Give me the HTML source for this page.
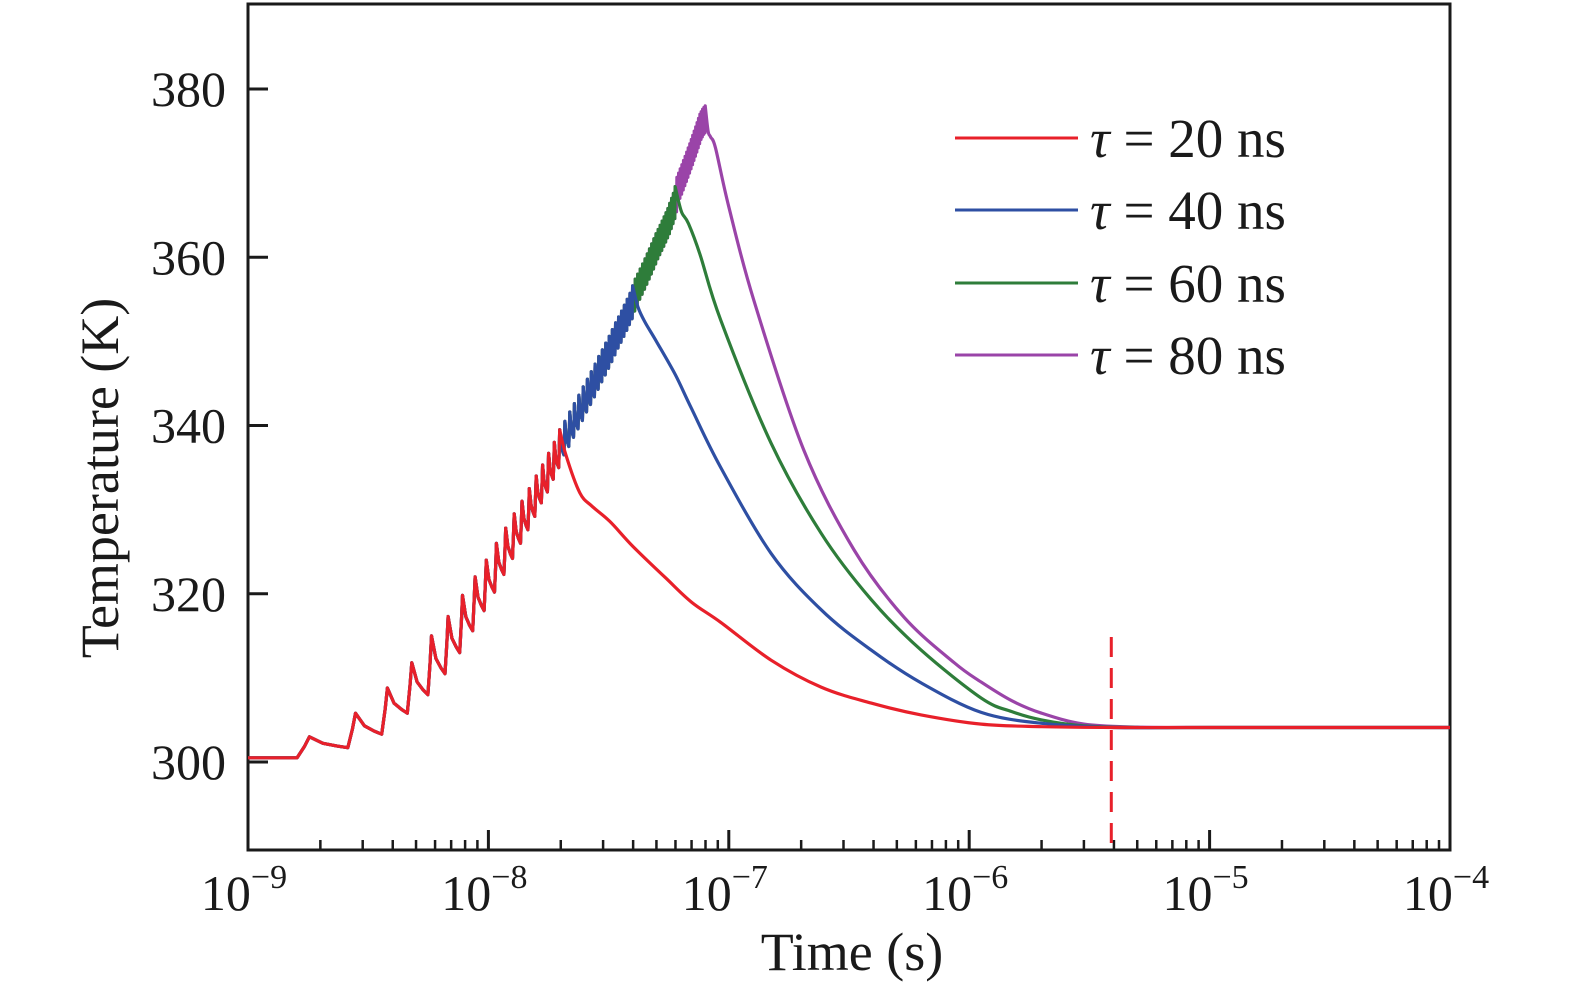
<!DOCTYPE html>
<html><head><meta charset="utf-8"><style>
body{margin:0;background:#fff}
svg{display:block;font-family:"Liberation Serif",serif}
</style></head><body>
<svg id="chart" width="1575" height="994" viewBox="0 0 1575 994" xmlns="http://www.w3.org/2000/svg">
<g id="grid"></g>
<g id="series"></g>
<g id="legend"></g>
</svg>
<script>
const xDecades=[-9,-8,-7,-6,-5,-4];
const yTicks=[300,320,340,360,380];
const pulsePeriodNs=1, firstPulseNs=1.8;
const peakK=[303.0,305.8,308.8,311.8,315.0,317.3,319.8,322.0,324.0,326.0,327.8,329.5,331.0,332.5,334.0,335.3,336.7,338.0,339.5,340.5,341.6,342.6,343.6,344.6,345.5,346.4,347.3,348.2,349.0,349.8,350.6,351.4,352.2,352.9,353.6,354.3,355.0,355.7,356.6,357.4,358.0,358.6,359.2,359.8,360.4,361.0,361.6,362.2,362.8,363.3,363.8,364.3,364.8,365.3,365.8,366.4,367.0,367.6,368.4,369.5,370.0,370.5,371.0,371.5,372.0,372.5,373.0,373.5,374.0,374.5,375.0,375.5,376.0,376.5,377.0,377.3,377.6,377.8,378.0];
const dropK=[1.3,2.5,3.0,3.8,4.5,4.3,4.2,4.0,3.8,3.7,3.6,3.5,3.4,3.3,3.2,3.2,3.1,3.0,3.0,3.0,3.0,3.0,3.0,3.0,3.0,3.0,3.0,3.0,3.0,3.0,3.0,3.0,3.0,3.0,3.0,3.0,3.0,3.0,3.0,3.0,3.0,3.0,3.0,3.0,3.0,3.0,3.0,3.0,3.0,3.0,3.0,3.0,3.0,3.0,3.0,3.0,3.0,3.0,3.0,3.0,3.0,3.0,3.0,3.0,3.0,3.0,3.0,3.0,3.0,3.0,3.0,3.0,3.0,3.0,3.0,3.0,3.0,3.0,3.0];
const startK=300.5;
const seriesNames=["τ = 20 ns","τ = 40 ns","τ = 60 ns","τ = 80 ns"];
const seriesColors=["#e8202a","#2e4fa3","#2e7d3a","#9a44a8"];
const pulseDurNs=[20,40,60,80];
const decayNs20=[21,24,27,32,40,55,70,92.6,150,242,391,631,1122,2000,4000,8000,20000,50000,100000];
const decayK20=[336.5,332,330.4,328.6,325.6,321.8,319.0,316.6,312.1,308.9,307.0,305.6,304.5,304.2,304.1,304.1,304.1,304.1,304.1];
const decayNs40=[42,45,50,60,70,92.6,150,242,391,631,1122,2000,4000,8000,20000,50000,100000];
const decayK40=[354,352.2,350.0,346.0,342.0,335.0,324.8,318.1,313.3,309.4,305.9,304.6,304.1,304.1,304.1,304.1,304.1];
const decayNs60=[62,64,68,76,92.6,150,242,391,631,1122,1500,2000,3000,5000,10000,25000,100000];
const decayK60=[366.5,365.2,364,360.3,352.5,337.9,327.2,319.3,313.3,307.6,306.0,305.0,304.3,304.1,304.1,304.1,304.1];
const decayNs80=[82,84,88,100,127,205,332,536,866,1122,1500,2000,3000,5000,10000,25000,100000];
const decayK80=[375,374.3,373,366,354.9,337.1,325.2,317.2,311.8,309.5,307.3,305.8,304.5,304.15,304.1,304.1,304.1];
const markerTimeS=3.9e-6;

const X0=248,X1=1450,Y0=850,YT=4;
const xs=t=>X0+(Math.log10(t)+9)*(X1-X0)/5;
const ys=k=>762-(k-300)*(762-89)/80;
const NS="http://www.w3.org/2000/svg";
function mk(tag,attrs,parent){const e=document.createElementNS(NS,tag);for(const k in attrs)e.setAttribute(k,attrs[k]);parent.appendChild(e);return e;}
const grid=document.getElementById('grid'),ser=document.getElementById('series'),leg=document.getElementById('legend');

const frame=mk('rect',{x:X0,y:YT,width:X1-X0,height:Y0-YT,fill:'none',stroke:'#1a1a1a','stroke-width':3},grid);


xDecades.forEach((d,i)=>{
  const x=xs(Math.pow(10,d));
  const t=mk('line',{x1:x,x2:x,y1:Y0,y2:Y0-20,stroke:'#1a1a1a','stroke-width':3},grid);
  
  
  const lb=mk('text',{x:x-4,y:910,'text-anchor':'middle','font-size':50,fill:'#1a1a1a'},grid);
  
  
  lb.textContent='10';
  const sp=mk('tspan',{dy:-22,'font-size':34},lb);sp.textContent='−'+(-d);
  if(i<xDecades.length-1){for(let m=2;m<=9;m++){const xm=xs(m*Math.pow(10,d));
    const mt=mk('line',{x1:xm,x2:xm,y1:Y0,y2:Y0-10,stroke:'#1a1a1a','stroke-width':2.5},grid);
    
    }}
});
yTicks.forEach(v=>{
  const y=ys(v);
  const t=mk('line',{x1:X0,x2:X0+20,y1:y,y2:y,stroke:'#1a1a1a','stroke-width':3},grid);
  
  
  const lb=mk('text',{x:226,y:y+17,'text-anchor':'end','font-size':50,fill:'#1a1a1a'},grid);
  
  
  lb.textContent=v;
});
const xt=mk('text',{x:852,y:970,'text-anchor':'middle','font-size':54,fill:'#1a1a1a'},grid);


xt.textContent='Time (s)';
const yt=mk('text',{x:0,y:0,'text-anchor':'middle','font-size':54,fill:'#1a1a1a',transform:'translate(118,478) rotate(-90)'},grid);


yt.textContent='Temperature (K)';

const dl=mk('line',{x1:xs(markerTimeS),x2:xs(markerTimeS),y1:637,y2:Y0,stroke:'#e8202a','stroke-width':3,'stroke-dasharray':'20,11'},grid);



function heatPts(durNs){
  const pts=[[1e-9,startK]];
  let prev=startK;
  for(let n=0;n<peakK.length;n++){
    const tn=firstPulseNs+n*pulsePeriodNs;
    if(tn>durNs)break;
    pts.push([(tn-0.2)*1e-9,prev]);
    pts.push([(tn-0.08)*1e-9,prev+(peakK[n]-prev)*0.55]);
    pts.push([tn*1e-9,peakK[n]]);
    const lo=peakK[n]-dropK[n];
    const tnext=tn+pulsePeriodNs;
    if(tnext<=durNs){
      pts.push([(tn+0.25)*1e-9,peakK[n]-dropK[n]*0.6]);
      pts.push([(tn+0.55)*1e-9,peakK[n]-dropK[n]*0.85]);
    }
    prev=lo;
  }
  return pts;
}
function smoothPath(P){
  let d='';
  for(let i=0;i<P.length-1;i++){
    const p0=P[Math.max(0,i-1)],p1=P[i],p2=P[i+1],p3=P[Math.min(P.length-1,i+2)];
    const c1=[p1[0]+(p2[0]-p0[0])/6,p1[1]+(p2[1]-p0[1])/6];
    const c2=[p2[0]-(p3[0]-p1[0])/6,p2[1]-(p3[1]-p1[1])/6];
    d+=' C'+c1[0].toFixed(1)+','+c1[1].toFixed(1)+' '+c2[0].toFixed(1)+','+c2[1].toFixed(1)+' '+p2[0].toFixed(1)+','+p2[1].toFixed(1);
  }
  return d;
}
const decays=[[decayNs20,decayK20],[decayNs40,decayK40],[decayNs60,decayK60],[decayNs80,decayK80]];
for(let s=3;s>=0;s--){
  const hp=heatPts(pulseDurNs[s]).map(p=>[xs(p[0]),ys(p[1])]);
  const [dn,dk]=decays[s];
  const dp=[hp[hp.length-1]].concat(dn.map((t,i)=>[xs(Math.min(t*1e-9,1e-4)),ys(dk[i])]));
  const d='M'+hp.map(p=>p[0].toFixed(1)+','+p[1].toFixed(1)).join(' L')+smoothPath(dp);
  const path=mk('path',{d:d,fill:'none',stroke:seriesColors[s],'stroke-width':3.2,'stroke-linejoin':'round'},ser);
  
  
}
const legY=[138,210,283,355];
seriesNames.forEach((nm,i)=>{
  const l=mk('line',{x1:955,x2:1078,y1:legY[i],y2:legY[i],stroke:seriesColors[i],'stroke-width':3},leg);
  
  
  const t=mk('text',{x:1090,y:legY[i]+19,'font-size':55,fill:'#1a1a1a'},leg);
  
  
  const tau=mk('tspan',{'font-style':'italic'},t);tau.textContent='τ';
  const rest=mk('tspan',{},t);rest.textContent=nm.slice(1);
});
</script>
</body></html>
